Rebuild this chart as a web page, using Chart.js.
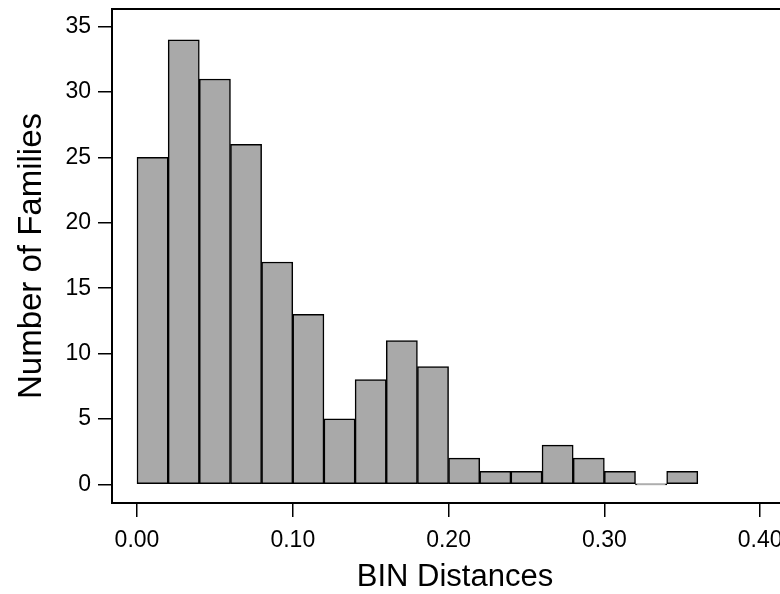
<!DOCTYPE html>
<html>
<head>
<meta charset="utf-8">
<script src="https://cdn.jsdelivr.net/npm/chart.js@4.4.1/dist/chart.umd.min.js"></script>
<style>
  html, body { margin: 0; padding: 0; background: #fff; overflow: hidden; }
  #wrap { width: 810px; height: 594px; position: relative; }
</style>
</head>
<body>
<div id="wrap"><canvas id="c"></canvas></div>
<script>
// ---- data ----
const binWidth = 0.02;
const binStarts = [0.00, 0.02, 0.04, 0.06, 0.08, 0.10, 0.12, 0.14, 0.16, 0.18, 0.20, 0.22, 0.24, 0.26, 0.28, 0.30, 0.32, 0.34];
const familyCounts = [25, 34, 31, 26, 17, 13, 5, 8, 11, 9, 2, 1, 1, 3, 2, 1, 0, 1];
const xTickValues = [0.00, 0.10, 0.20, 0.30, 0.40];
const yTickValues = [0, 5, 10, 15, 20, 25, 30, 35];
const xTitle = 'BIN Distances';
const yTitle = 'Number of Families';

const histData = binStarts.map((s, i) => ({ x: s + binWidth / 2, y: familyCounts[i] }));

const FONT = '"Liberation Sans", Arial, Helvetica, sans-serif';

const framePlugin = {
  id: 'frame',
  beforeDraw(chart) {
    const ctx = chart.ctx;
    ctx.save();
    ctx.fillStyle = '#fff';
    ctx.fillRect(0, 0, chart.width, chart.height);
    ctx.restore();
  },
  afterDraw(chart) {
    const { left, right, top, bottom } = chart.chartArea;
    const ctx = chart.ctx;
    ctx.save();
    ctx.strokeStyle = '#000';
    ctx.lineWidth = 2;
    ctx.beginPath();
    ctx.moveTo(left - 1, top);
    ctx.lineTo(right, top);
    ctx.lineTo(right, bottom);
    ctx.stroke();
    ctx.restore();
  }
};

new Chart(document.getElementById('c'), {
  type: 'bar',
  data: {
    datasets: [{
      data: histData,
      backgroundColor: '#a9a9a9',
      borderColor: '#000',
      borderWidth: 1.5,
      barPercentage: 1.0,
      categoryPercentage: 1.0,
      borderSkipped: false,
      minBarLength: 1
    }]
  },
  options: {
    responsive: true,
    maintainAspectRatio: false,
    animation: false,
    devicePixelRatio: 1,
    layout: { padding: { left: 0, top: 9, right: 12, bottom: 0 } },
    plugins: { legend: { display: false }, tooltip: { enabled: false } },
    scales: {
      x: {
        type: 'linear',
        offset: false,
        min: -0.01605,
        max: 0.4243,
        afterBuildTicks(scale) { scale.ticks = xTickValues.map(v => ({ value: v })); },
        afterFit(scale) { scale.height = 91; scale.paddingLeft = 0; scale.paddingRight = 0; },
        ticks: {
          includeBounds: false,
          padding: 10,
          color: '#000',
          font: { family: FONT, size: 23 },
          maxRotation: 0,
          autoSkip: false,
          callback: v => Number(v).toFixed(2)
        },
        grid: { offset: false, drawOnChartArea: false, drawTicks: true, tickLength: 14, color: '#000', lineWidth: 1.5 },
        border: { display: true, color: '#000', width: 2 },
        title: {
          display: true, text: xTitle, color: '#000',
          font: { family: FONT, size: 31, lineHeight: 1 },
          padding: { top: 0, bottom: 1 }
        }
      },
      y: {
        type: 'linear',
        min: -1.43,
        max: 36.35,
        afterBuildTicks(scale) { scale.ticks = yTickValues.map(v => ({ value: v })); },
        afterFit(scale) { scale.width = 112; scale.paddingTop = 0; scale.paddingBottom = 0; },
        ticks: {
          includeBounds: false,
          padding: 7,
          color: '#000',
          font: { family: FONT, size: 23 },
          autoSkip: false
        },
        grid: { drawOnChartArea: false, drawTicks: true, tickLength: 14, color: '#000', lineWidth: 1.5 },
        border: { display: true, color: '#000', width: 2 },
        title: {
          display: true, text: yTitle, color: '#000',
          font: { family: FONT, size: 33, lineHeight: 1 },
          padding: { top: 15, bottom: 0 }
        }
      }
    }
  },
  plugins: [framePlugin]
});
</script>
</body>
</html>
